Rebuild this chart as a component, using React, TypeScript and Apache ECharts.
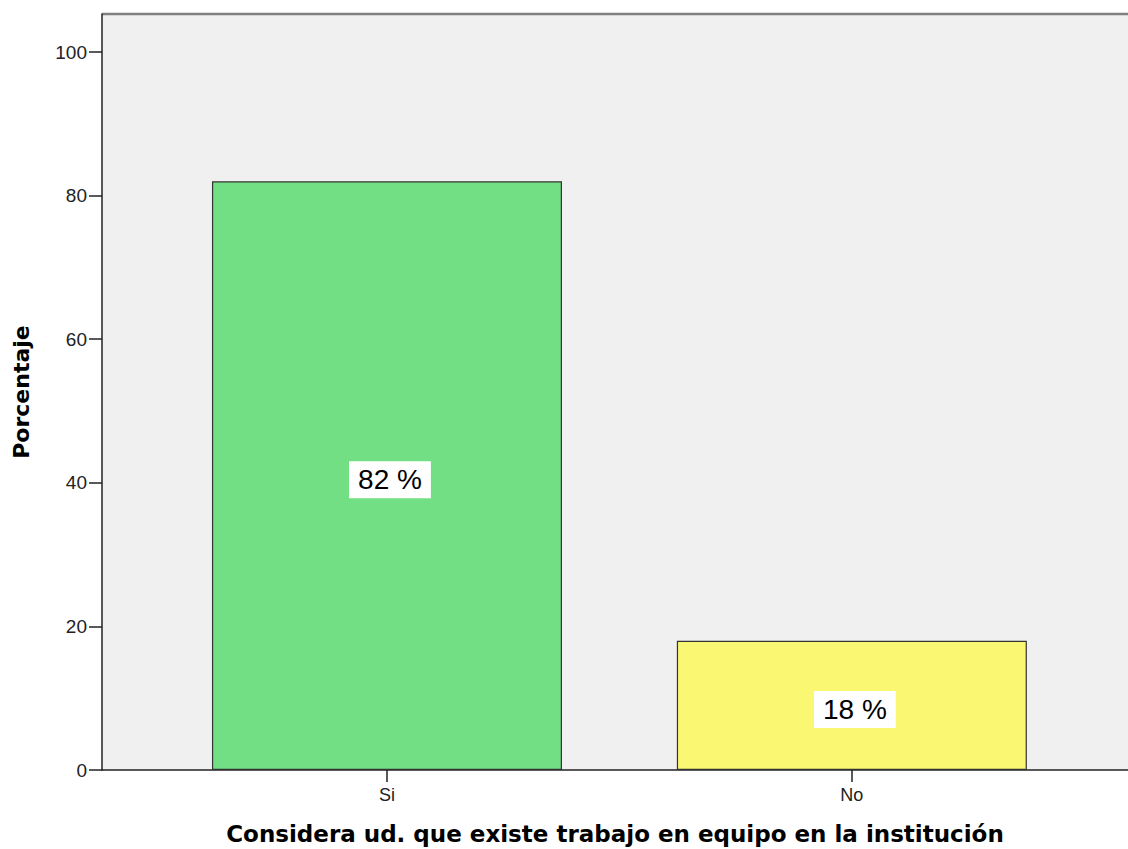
import React, { useEffect, useRef } from "react";
import * as echarts from "echarts";

const categories = ["Si", "No"];
const values = [82, 18];
const labels = ["82 %", "18 %"];
const barColors = ["#73df85", "#faf773"];
const yTicks = [0, 20, 40, 60, 80, 100];

export default function App() {
  const ref = useRef<HTMLDivElement>(null);
  useEffect(() => {
    const chart = echarts.init(ref.current!, undefined, { renderer: "svg" });
    const font = "'Liberation Sans', Arial, sans-serif";
    const titleFont = "'DejaVu Sans', Verdana, sans-serif";
    chart.setOption({
      animation: false,
      grid: {
        left: 102, right: 0, top: 14, bottom: 79, show: true, backgroundColor: "#f0f0f0", borderWidth: 0,
        outerBoundsMode: "none", containLabel: false,
      },
      xAxis: {
        type: "value",
        min: -0.613,
        max: 1.594,
        name: "Considera ud. que existe trabajo en equipo en la institución",
        nameLocation: "middle",
        nameGap: 52,
        nameTextStyle: { fontFamily: titleFont, fontWeight: "bold", fontSize: 23, color: "#000" },
        splitLine: { show: false },
        axisLine: { show: true, onZero: false, lineStyle: { color: "#222", width: 1.5 } },
        axisTick: { show: true, length: 12, lineStyle: { color: "#222", width: 1.5 }, customValues: [0, 1] },
        axisLabel: {
          customValues: [0, 1],
          formatter: (v: number) => categories[Math.round(v)] ?? "",
          margin: 16,
          fontFamily: font,
          fontSize: 18,
          color: "#222",
        },
      },
      yAxis: {
        type: "value",
        min: 0,
        max: 105.3,
        name: "Porcentaje",
        nameLocation: "middle",
        nameGap: 70,
        nameTextStyle: { fontFamily: titleFont, fontWeight: "bold", fontSize: 22, color: "#000" },
        splitLine: { show: false },
        axisLine: { show: true, onZero: false, lineStyle: { color: "#222", width: 1.5 } },
        axisTick: { show: true, length: 13, lineStyle: { color: "#222", width: 1.5 }, customValues: yTicks },
        axisLabel: { customValues: yTicks, margin: 15, fontFamily: font, fontSize: 19, color: "#222" },
      },
      graphic: [
        { type: "line", shape: { x1: 102, y1: 14, x2: 1128, y2: 14 }, style: { stroke: "#808080", lineWidth: 2.5 } },
      ],
      series: [
        {
          type: "bar",
          barWidth: 350,
          data: values.map((v, i) => ({
            value: [i, v],
            itemStyle: { color: barColors[i], borderColor: "#333", borderWidth: 1.2 },
            label: {
              show: true,
              position: "inside",
              offset: [3, 4],
              formatter: labels[i],
              fontFamily: font,
              fontSize: 28,
              color: "#000",
              backgroundColor: "#fff",
              padding: [5, 9, 4, 9],
            },
          })),
        },
      ],
    });
    return () => chart.dispose();
  }, []);
  return <div ref={ref} style={{ width: 1128, height: 849, position: "absolute", left: 0, top: 0 }} />;
}
